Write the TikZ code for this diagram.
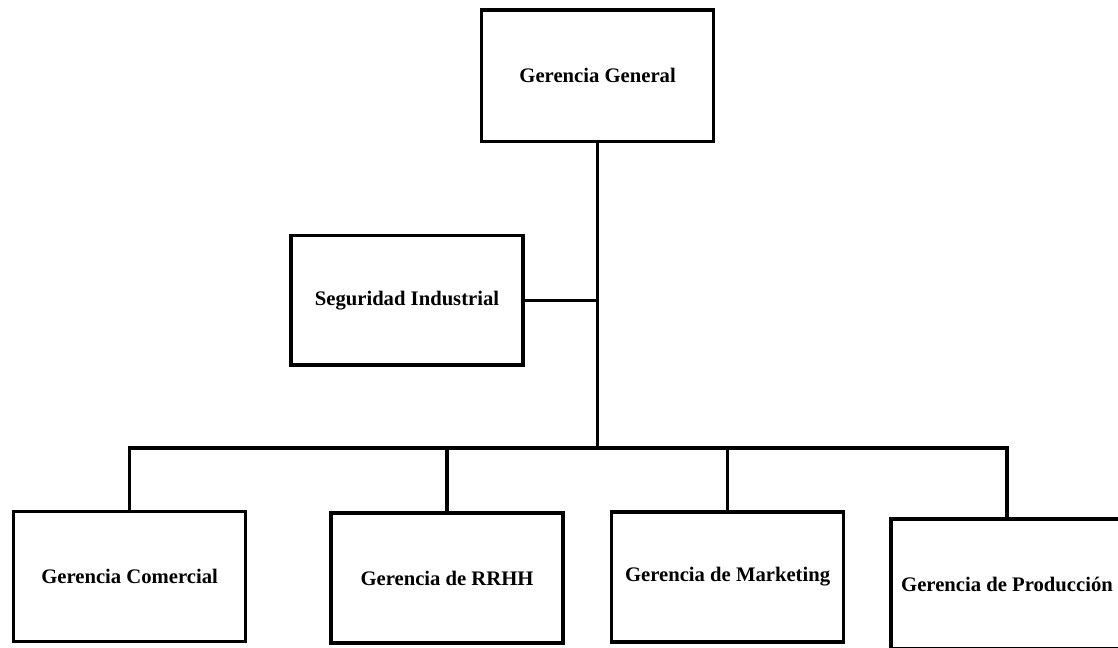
\documentclass[tikz,border=0pt]{standalone}
\usepackage{fontspec}
\setmainfont{Liberation Serif}
\usetikzlibrary{positioning}

\tikzset{
  cargo/.style={draw, line width=2.3pt, rectangle, inner sep=0pt,
    minimum width=5.8cm, minimum height=3.25cm,
    font=\fontsize{14.7}{17}\selectfont\bfseries},
  enlace/.style={draw, line width=2.3pt}
}

\begin{document}
\begin{tikzpicture}
    \useasboundingbox (0,0) rectangle (27.95,16.2);
    \begin{scope}

      \node[cargo, minimum height=3.28cm] (gg) at (14.94, 14.31) {Gerencia General};
      \node[cargo, minimum height=3.23cm] (seg) at (10.175, 8.69) {Seguridad Industrial};

      \node[cargo] (com)  at (3.24, 1.79)   {Gerencia Comercial};
      \node[cargo] (rrhh) at (11.175, 1.75) {Gerencia de RRHH};
      \node[cargo] (mkt)  at (18.19, 1.775) {Gerencia de Marketing};
      \node[cargo] (prod) at (25.175, 1.6)  {Gerencia de Producción};

      \coordinate (bus) at (gg.south |- 0, 5.0);

      \draw[enlace] (gg.south) -- (bus);
      \draw[enlace] (seg.east) -- (seg.east -| bus);

      \draw[enlace] (com.north) |- (bus) -| (prod.north);
      \draw[enlace] (rrhh.north) -- (rrhh.north |- bus);
      \draw[enlace] (mkt.north) -- (mkt.north |- bus);
    \end{scope}
  \end{tikzpicture}
\end{document}
